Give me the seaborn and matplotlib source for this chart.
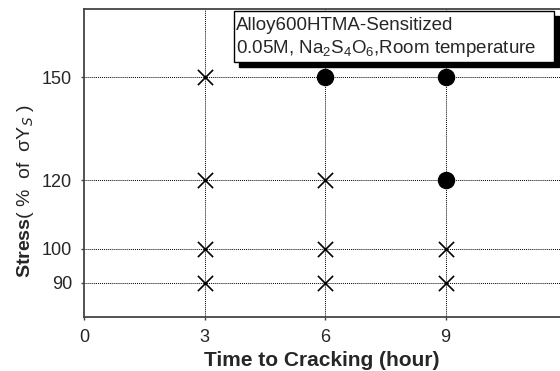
import matplotlib
matplotlib.use("Agg")
import matplotlib.pyplot as plt
from matplotlib.patches import Rectangle
import seaborn as sns
import pandas as pd

# --- data ---
cross_time = [3, 3, 3, 3, 6, 6, 6, 9, 9]
cross_stress = [150, 120, 100, 90, 120, 100, 90, 100, 90]
dot_time = [6, 9, 9]
dot_stress = [150, 150, 120]
x_ticks = [0, 3, 6, 9]
y_ticks = [90, 100, 120, 150]

sns.set_style("ticks")
plt.rcParams['font.family'] = ['Liberation Sans', 'DejaVu Sans']
plt.rcParams['mathtext.fontset'] = 'custom'
plt.rcParams['mathtext.rm'] = 'Liberation Sans'
plt.rcParams['mathtext.bf'] = 'Liberation Sans:bold'

fig = plt.figure(figsize=(5.6, 3.71), dpi=100)
ax = fig.add_axes([0.15, 0.1456, 0.85, 0.830])

# dotted grid only at the tick values
for x in x_ticks[1:]:
    ax.axvline(x, color='black', lw=0.7, ls=(0, (1, 1)), zorder=1)
for y in y_ticks:
    ax.axhline(y, color='black', lw=0.7, ls=(0, (1, 1)), zorder=1)

crosses = pd.DataFrame({'t': cross_time, 's': cross_stress})
dots = pd.DataFrame({'t': dot_time, 's': dot_stress})
sns.scatterplot(data=crosses, x='t', y='s', marker='x', s=120, color='black',
                linewidth=1.2, ax=ax, zorder=3)
sns.scatterplot(data=dots, x='t', y='s', marker='o', s=135, color='black',
                edgecolor='black', ax=ax, zorder=3)

ax.set_xlim(0, 11.85)
ax.set_ylim(80, 170)
ax.set_xticks(x_ticks)
ax.set_yticks(y_ticks)
ax.tick_params(axis='both', labelsize=13, length=2.5, width=1, pad=6, color='#444444')
ax.set_xlabel('Time to Cracking (hour)', fontsize=15, fontweight='bold', labelpad=4)
ax.set_ylabel(r'$\bf{Stress}$( %  of  σY$_S$ )', fontsize=14)
ax.yaxis.set_label_coords(-0.10, 0.41)
for side in ['left', 'bottom', 'top']:
    ax.spines[side].set_color('#444444')
    ax.spines[side].set_linewidth(1.3)
ax.spines['right'].set_visible(False)

# annotation box with a solid drop shadow (box drawn in data units, unclipped)
ax.add_patch(Rectangle((3.85, 153.0), 7.97, 15.0, facecolor='#000000',
                       edgecolor='#000000', lw=1, zorder=6, clip_on=False))
ax.add_patch(Rectangle((3.73, 154.5), 7.97, 14.9, facecolor='white',
                       edgecolor='black', lw=1, zorder=7, clip_on=False))
ax.text(3.78, 167.6,
        'Alloy600HTMA-Sensitized\n0.05M, Na$_2$S$_4$O$_6$,Room temperature',
        fontsize=13.5, va='top', ha='left', linespacing=1.25, zorder=8)

plt.savefig("out.png", dpi=100)
